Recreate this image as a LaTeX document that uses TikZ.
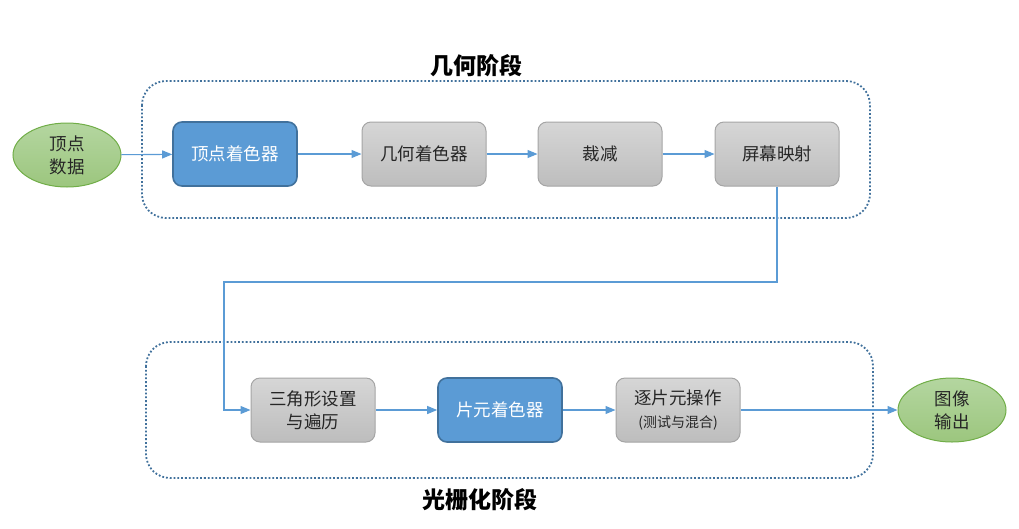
\documentclass[tikz,border=0pt]{standalone}
\usepackage{fontspec}
\setmainfont{Noto Sans CJK SC}
\newfontfamily\cjk{Noto Sans CJK SC}
\usetikzlibrary{arrows.meta,shapes.geometric}
\definecolor{blueF}{HTML}{5B9BD5}
\definecolor{blueD}{HTML}{41719C}
\definecolor{grayT}{HTML}{D6D6D6}
\definecolor{grayB}{HTML}{BDBDBD}
\definecolor{grayD}{HTML}{A5A5A5}
\definecolor{greenT}{HTML}{B4D6A0}
\definecolor{greenB}{HTML}{9CC67E}
\definecolor{greenD}{HTML}{70AD47}
\definecolor{dotC}{HTML}{41719C}
\begin{document}
\begin{tikzpicture}[x=1pt,y=-1pt,
  every node/.style={font=\cjk\fontsize{17.5}{23}\selectfont, text=black!85},
  blockbase/.style={rounded corners=9pt, minimum width=124pt, minimum height=64pt, inner sep=0pt, align=center, line width=1pt},
  bluebox/.style={blockbase, fill=blueF, draw=blueD, line width=1.6pt, text=white},
  graybox/.style={blockbase, top color=grayT, bottom color=grayB, draw=grayD},
  oval/.style={ellipse, minimum width=108pt, minimum height=64pt, inner sep=0pt, align=center, top color=greenT, bottom color=greenB, draw=greenD, line width=1pt},
  frame/.style={draw=dotC, dotted, line width=1.8pt, rounded corners=24pt},
  conn/.style={draw=blueF, line width=1.1pt, -{Triangle[length=10pt,width=8pt]}},
  title/.style={font=\cjk\fontsize{23}{26}\selectfont\bfseries, text=black}
]
\useasboundingbox (0,0) rectangle (1019,528);
% frames
\draw[frame] (142,81) rectangle (870,218);
\draw[frame] (146,342) rectangle (873,478);
\node[title] (t1) at (476,66) {几何阶段};
\node[title] (t2) at (480,500) {光栅化阶段};
% top row
\node[oval] (vd) at (67,155) {顶点\\数据};
\node[bluebox] (vs) at (235,154) {顶点着色器};
\node[graybox] (gs) at (424,154) {几何着色器};
\node[graybox] (cl) at (600,154) {裁减};
\node[graybox] (sm) at (777,154) {屏幕映射};
% bottom row
\node[graybox] (ts) at (313,410) {三角形设置\\与遍历};
\node[bluebox] (fs) at (500,410) {片元着色器};
\node[graybox] (po) at (678,410) {逐片元操作\\{\fontsize{14}{18}\selectfont(测试与混合)}};
\node[oval] (io) at (952,410) {图像\\输出};
% connectors
\draw[conn] (vd) -- (vs);
\draw[conn] (vs) -- (gs);
\draw[conn] (gs) -- (cl);
\draw[conn] (cl) -- (sm);
\coordinate (c1) at (777,282);
\coordinate (c2) at (224,282);
\coordinate (c3) at (224,410);
\draw[conn] (sm.south) -- (c1) -- (c2) -- (c3) -- (ts.west);
\draw[conn] (ts) -- (fs);
\draw[conn] (fs) -- (po);
\draw[conn] (po) -- (io);
\end{tikzpicture}
\end{document}
